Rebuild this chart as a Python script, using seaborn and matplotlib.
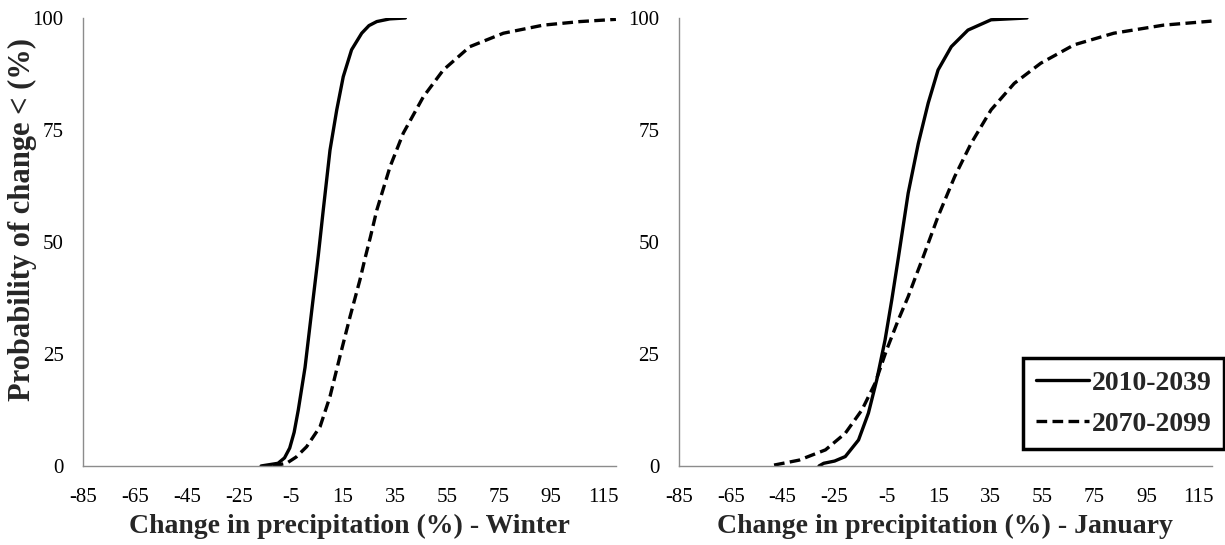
import numpy as np
import pandas as pd
import matplotlib
matplotlib.use("Agg")
import matplotlib.pyplot as plt
import seaborn as sns


# =========================
# 1. 数据
# =========================
series_names = ["2010-2039", "2070-2099"]

# Winter
winter_near_x = [-16.5, -10, -7.5, -5.5, -3.8, -2.2, 0.4, 3, 5.5, 7.4, 10, 12.6, 15.1, 18.3, 22.2, 25, 28, 33, 39]
winter_near_y = [0, 0.6, 1.8, 4, 7.5, 12.5, 22, 34.8, 47, 57.1, 70.5, 79.5, 86.9, 92.9, 96.6, 98.3, 99.2, 99.8, 100]

winter_far_x = [-12, -6.7, -3, 1, 6.2, 10, 13.8, 17.7, 21.5, 23.5, 25.5, 28, 33.1, 38.2, 45.9, 53.6, 63.8, 76.7, 92, 106.2, 120]
winter_far_y = [0, 0.6, 2, 4.3, 8.8, 15.5, 24.4, 33.3, 41.5, 46.4, 51, 57.1, 66.8, 74.3, 82.4, 88.4, 93.6, 96.6, 98.4, 99.2, 99.7]

# January
jan_near_x = [-31, -29.2, -25, -20.9, -15.8, -12, -8.8, -5.6, -3, -0.5, 3.3, 7.2, 11, 14.8, 19.9, 26.3, 35.2, 49]
jan_near_y = [0, 0.6, 1.1, 2.1, 5.8, 11.8, 19.2, 28.1, 37.1, 46.4, 60.9, 72, 81, 88.4, 93.6, 97.3, 99.6, 100]

jan_far_x = [-48.3, -38.7, -28.5, -20.9, -14.5, -9.4, -5, -0.5, 3.3, 6.2, 9.1, 14.8, 21.2, 27.5, 35.2, 44.1, 54.3, 67.1, 82.4, 101.5, 120]
jan_far_y = [0.2, 1.3, 3.6, 7.3, 12.5, 18.5, 25.9, 32.6, 37.8, 42.3, 46.7, 55.7, 64.6, 72, 79.5, 85.4, 89.9, 94, 96.6, 98.4, 99.3]

x_ticks = list(range(-85, 120, 20))
y_ticks = [0, 25, 50, 75, 100]

panel_labels = [
    "Change in precipitation (%) - Winter",
    "Change in precipitation (%) - January",
]
y_label = "Probability of change < (%)"


# =========================
# 2. 绘图
# =========================
def make_frame(xs, ys, name):
    return pd.DataFrame({"x": xs, "y": ys, "period": name})


def draw_panel(ax, near, far, xlabel):
    styles = ["-", (0, (3.2, 1.6))]
    for (xs, ys), name, ls in zip([near, far], series_names, styles):
        df = make_frame(xs, ys, name)
        sns.lineplot(data=df, x="x", y="y", ax=ax, color="black",
                     linewidth=2.4, linestyle=ls, label=name, legend=False,
                     sort=False)

    ax.set_xlim(-85, 120)
    ax.set_ylim(0, 100)
    ax.set_xticks(x_ticks)
    ax.set_yticks(y_ticks)
    ax.set_xlabel(xlabel, fontsize=20, fontweight="bold", labelpad=5)
    ax.set_ylabel("")

    for side in ["top", "right"]:
        ax.spines[side].set_visible(False)
    for side in ["left", "bottom"]:
        ax.spines[side].set_color("#8c8c8c")
        ax.spines[side].set_linewidth(1.0)
    ax.tick_params(axis="both", direction="out", length=5, width=1,
                   color="#8c8c8c", labelsize=15, labelcolor="black")
    ax.tick_params(axis="x", pad=11)
    ax.tick_params(axis="y", pad=9)


def main():
    sns.set_style("white")
    plt.rcParams["font.family"] = ["Liberation Serif", "DejaVu Serif"]
    plt.rcParams["axes.unicode_minus"] = False

    fig = plt.figure(figsize=(12.25, 5.45), dpi=100)
    ax1 = fig.add_axes([0.0678, 0.145, 0.435, 0.822])
    ax2 = fig.add_axes([0.554, 0.145, 0.435, 0.822])

    draw_panel(ax1, (winter_near_x, winter_near_y),
               (winter_far_x, winter_far_y), panel_labels[0])
    draw_panel(ax2, (jan_near_x, jan_near_y),
               (jan_far_x, jan_far_y), panel_labels[1])

    ax1.set_ylabel(y_label, fontsize=22, fontweight="bold")
    ax1.yaxis.set_label_coords(-0.087, 0.55)

    handles, labels = ax2.get_legend_handles_labels()
    leg = fig.legend(handles, labels, loc="lower right",
                     bbox_to_anchor=(0.999, 0.176),
                     bbox_transform=fig.transFigure,
                     frameon=True, fancybox=False, framealpha=1,
                     handlelength=1.9, handletextpad=0.1, borderpad=0.45,
                     labelspacing=0.55, borderaxespad=0.0,
                     prop={"size": 20, "weight": "bold"})
    leg.get_frame().set_edgecolor("black")
    leg.get_frame().set_linewidth(2.5)

    fig.savefig("out.png", dpi=100)


if __name__ == "__main__":
    main()
